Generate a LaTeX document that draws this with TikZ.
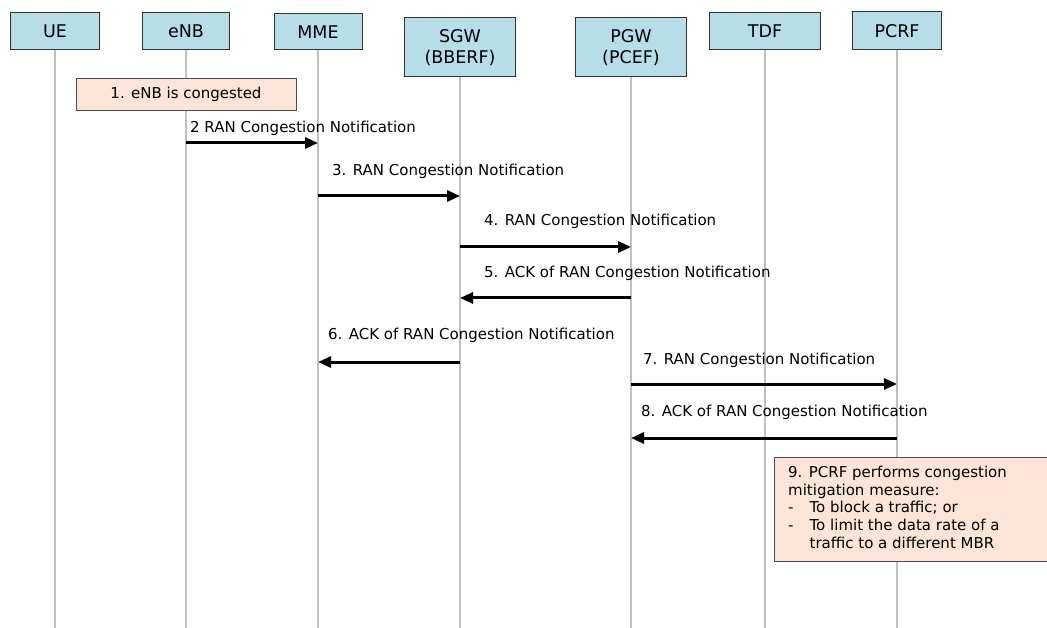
\documentclass[tikz,border=0pt]{standalone}
\usepackage{fontspec}
\setmainfont{DejaVu Sans}
\usetikzlibrary{arrows.meta}
\definecolor{headfill}{HTML}{B7DDE8}
\definecolor{notefill}{HTML}{FCE4D6}
\definecolor{lifegray}{HTML}{C0C0C0}
\tikzset{
  entity/.style={draw=black!80, line width=1pt, fill=headfill, align=center,
    inner sep=0pt, font=\fontsize{17.5}{21}\selectfont},
  notebox/.style={draw=black!70, line width=0.8pt, fill=notefill, inner sep=0pt},
  life/.style={draw=lifegray, line width=1.2pt},
  msg/.style={line width=3pt, -{Triangle[length=13pt,width=11pt]}},
  lbl/.style={anchor=west, inner sep=0pt, font=\fontsize{15}{17}\selectfont}
}
\begin{document}
\begin{tikzpicture}[x=1pt,y=-1pt]
\useasboundingbox (0,0) rectangle (1047,628);
% participants
\node[entity, minimum width=89pt, minimum height=37pt] (ue)   at (55,31.5)  {UE};
\node[entity, minimum width=87pt, minimum height=37pt] (enb)  at (186,31.5) {eNB};
\node[entity, minimum width=88pt, minimum height=36pt] (mme)  at (318,32)   {MME};
\node[entity, minimum width=111pt, minimum height=59pt] (sgw) at (460,47.5) {SGW\\(BBERF)};
\node[entity, minimum width=111pt, minimum height=59pt] (pgw) at (631,47.5) {PGW\\(PCEF)};
\node[entity, minimum width=111pt, minimum height=37pt] (tdf) at (765,31.5) {TDF};
\node[entity, minimum width=89pt, minimum height=38pt] (pcrf) at (897,31)   {PCRF};
% lifeline ends
\foreach \n/\x in {ue/55,enb/186,mme/318,sgw/460,pgw/631,tdf/765,pcrf/897}
  \coordinate (\n end) at (\x,628);
\foreach \n in {ue,enb,mme,sgw,pgw,tdf,pcrf}
  \draw[life] (\n.south) -- (\n end);
% step 1
\node[notebox, minimum width=220pt, minimum height=32pt, font=\fontsize{15}{17}\selectfont]
  (n1) at (186,94) {1. eNB is congested};
% message end points on the lifelines
\foreach \n/\x in {enb/186,mme/318,sgw/460,pgw/631,pcrf/897}{
  \foreach \k/\y in {a/143,b/196,c/247,d/298,e/362,f/384,g/438}
    \coordinate (\n\k) at (\x,\y);
}
% messages
\draw[msg] (enba) -- (mmea);
\node[lbl] (l2) at (190,128) {2 RAN Congestion Notification};
\draw[msg] (mmeb) -- (sgwb);
\node[lbl] (l3) at (332,171) {3. RAN Congestion Notification};
\draw[msg] (sgwc) -- (pgwc);
\node[lbl] (l4) at (484,221) {4. RAN Congestion Notification};
\draw[msg] (pgwd) -- (sgwd);
\node[lbl] (l5) at (484,273) {5. ACK of RAN Congestion Notification};
\draw[msg] (sgwe) -- (mmee);
\node[lbl] (l6) at (328,335) {6. ACK of RAN Congestion Notification};
\draw[msg] (pgwf) -- (pcrff);
\node[lbl] (l7) at (643,360) {7. RAN Congestion Notification};
\draw[msg] (pcrfg) -- (pgwg);
\node[lbl] (l8) at (641,412) {8. ACK of RAN Congestion Notification};
% step 9
\node[notebox, minimum width=273pt, minimum height=104pt, anchor=north west] (n9) at (774,457) {};
\node[anchor=north west, inner sep=0pt, font=\fontsize{15}{17.7}\selectfont] (t9) at (788,465) {%
  \begin{tabular}{@{}l@{\hspace{16pt}}l@{}}
  \multicolumn{2}{@{}l@{}}{9. PCRF performs congestion}\\
  \multicolumn{2}{@{}l@{}}{mitigation measure:}\\
  - & To block a traffic; or\\
  - & To limit the data rate of a\\
    & traffic to a different MBR
  \end{tabular}};
\end{tikzpicture}
\end{document}
